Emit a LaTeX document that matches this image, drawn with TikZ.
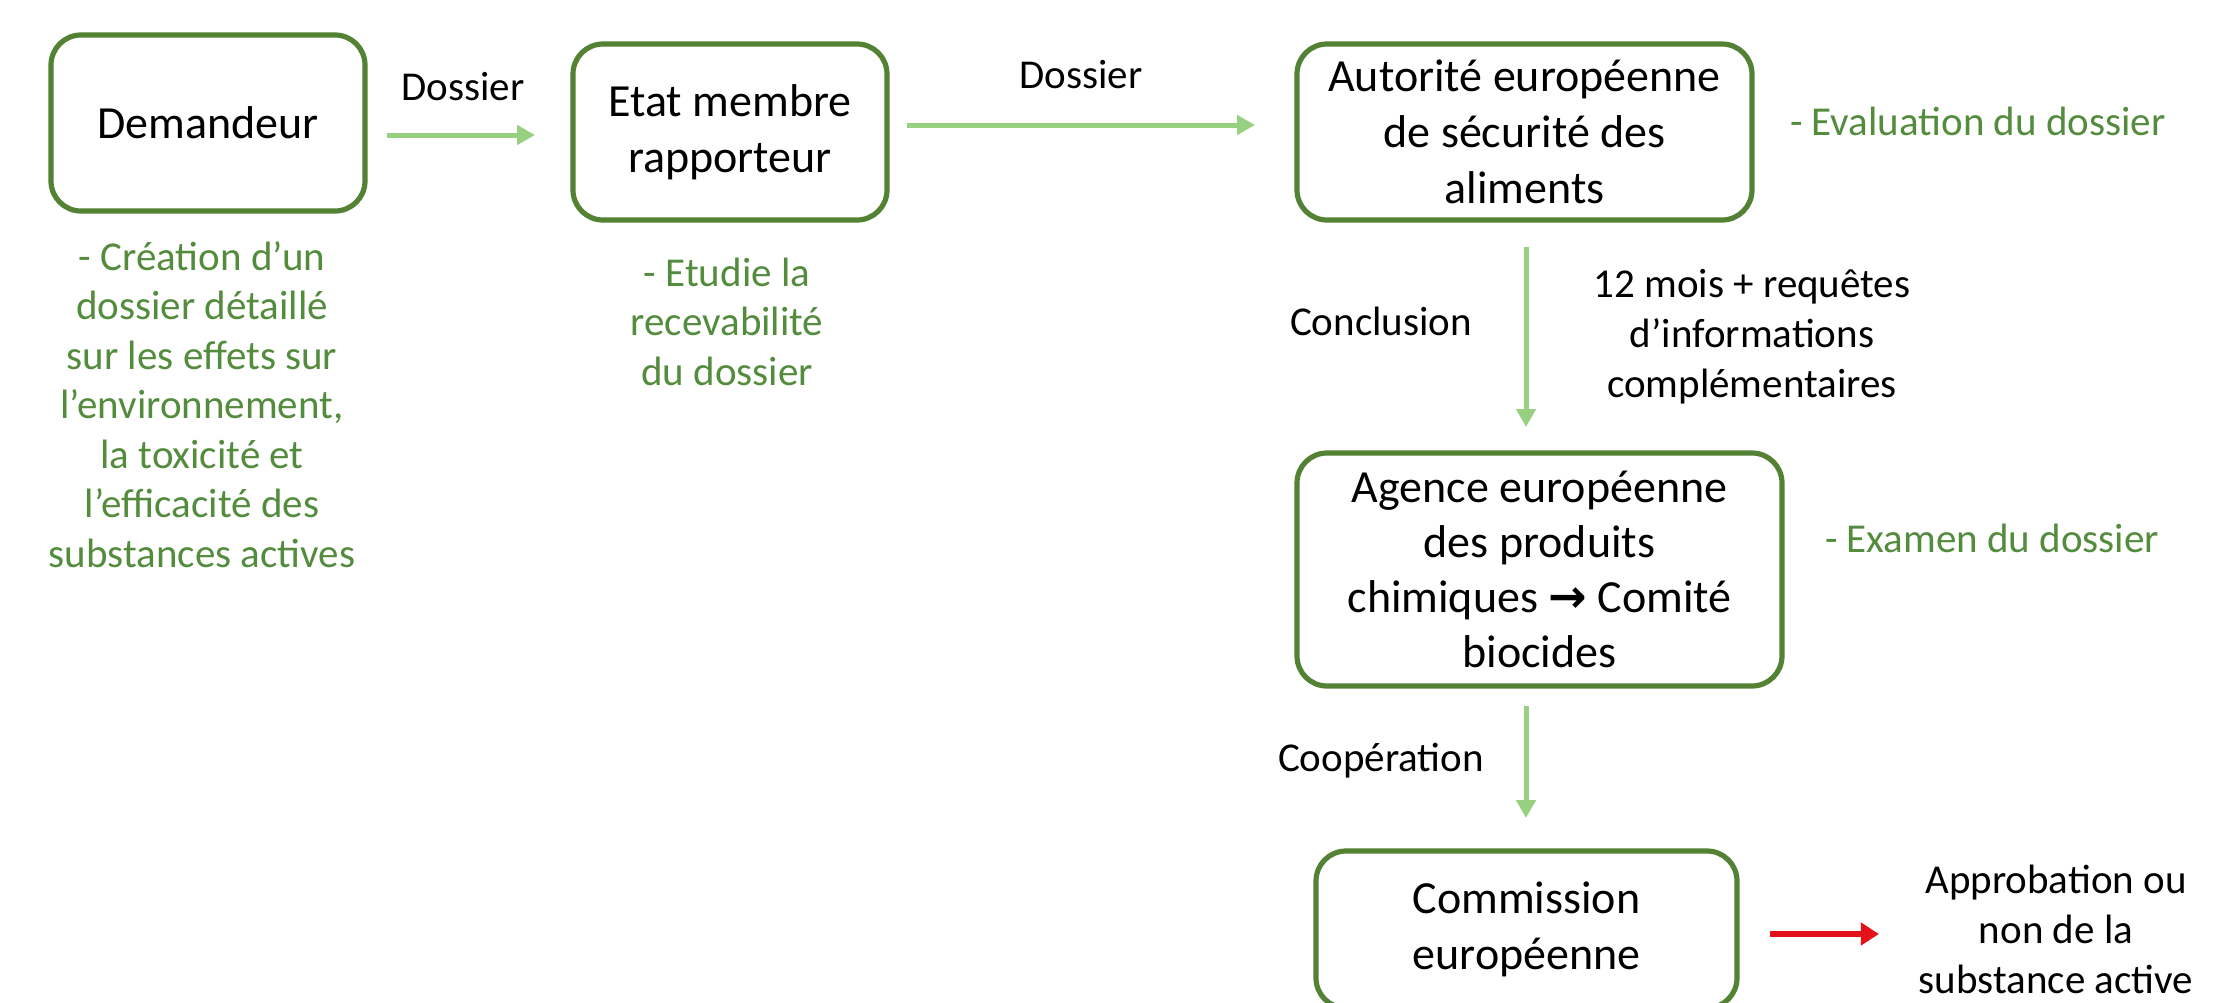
\documentclass[tikz,border=0pt]{standalone}
\usepackage{fontspec}
\setmainfont{Carlito}
\newfontfamily\symfont{DejaVu Sans}
\usetikzlibrary{arrows.meta,calc}
\definecolor{boxgreen}{RGB}{84,130,53}
\definecolor{txtgreen}{RGB}{84,140,62}
\definecolor{arrgreen}{RGB}{150,208,128}
\definecolor{arrred}{RGB}{228,18,24}
\begin{document}
\begin{tikzpicture}[x=0.5pt,y=-0.5pt,
  box/.style={draw=boxgreen, line width=2.6pt, rounded corners=15pt, fill=white,
    align=center, inner sep=0pt, outer sep=0pt, font=\fontsize{23pt}{28pt}\selectfont},
  lbl/.style={align=center, inner sep=0pt, outer sep=0pt, font=\fontsize{20.5pt}{25pt}\selectfont},
  note/.style={lbl, text=txtgreen, font=\fontsize{20.5pt}{24.75pt}\selectfont},
  garrow/.style={draw=arrgreen, line width=2.5pt, -{Triangle[length=9pt,width=9.5pt]}},
  rarrow/.style={draw=arrred, line width=2.7pt, -{Triangle[length=9pt,width=11pt]}}]
\useasboundingbox (0,0) rectangle (2217,1002);
\fill[white] (0,0) rectangle (2217,1002);

% boxes
\node[box, minimum width=157pt, minimum height=88pt] (dem) at (208,123) {Demandeur};
\node[box, minimum width=157pt, minimum height=88pt] (et) at (730,132) {Etat membre\\rapporteur};
\node[box, minimum width=227.5pt, minimum height=88pt] (aut) at (1524.5,132) {Autorité européenne\\de sécurité des\\aliments};
\node[box, minimum width=242.5pt, minimum height=116.5pt, font=\fontsize{23pt}{27.5pt}\selectfont] (age) at (1539.5,569.5) {Agence européenne\\des produits\\chimiques {\symfont\bfseries →} Comité\\biocides};
\node[box, minimum width=210.5pt, minimum height=78.5pt] (com) at (1526.5,929.5) {Commission\\européenne};

% green notes (base anchor = baseline of last line)
\node[note, anchor=base] (crea) at (202,567) {- Création d’un\\dossier détaillé\\sur les effets sur\\l’environnement,\\la toxicité et\\l’efficacité des\\substances actives};
\node[note, anchor=base] (etud) at (727,385) {- Etudie la\\recevabilité\\du dossier};
\node[note, anchor=base west] (eval) at (1790,135) {- Evaluation du dossier};
\node[note, anchor=base west] (exam) at (1825,552) {- Examen du dossier};

% labels
\node[lbl, anchor=base] (dos1) at (463,100) {Dossier};
\node[lbl, anchor=base] (dos2) at (1081,88) {Dossier};
\node[lbl, anchor=base] (concl) at (1381,335) {Conclusion};
\node[lbl, anchor=base] (mois) at (1752,397) {12 mois + requêtes\\d’informations\\complémentaires};
\node[lbl, anchor=base] (coop) at (1381,771) {Coopération};
\node[lbl, anchor=base] (appr) at (2056,993) {Approbation ou\\non de la\\substance active};

% connectors
\coordinate (r1) at (0,135);
\coordinate (r2) at (0,125);
\coordinate (vx) at (1526,0);
\coordinate (r3) at (0,934);
\draw[garrow, shorten <=11pt, shorten >=19pt] (dem.east |- r1) -- (et.west |- r1);
\draw[garrow, shorten <=10pt, shorten >=21pt] (et.east |- r2) -- (aut.west |- r2);
\draw[garrow, shorten <=13.5pt, shorten >=13pt] (vx |- aut.south) -- (vx |- age.north);
\draw[garrow, shorten <=10pt, shorten >=16.5pt] (vx |- age.south) -- (vx |- com.north);
\draw[rarrow, shorten <=16.5pt, shorten >=20pt] (com.east |- r3) -- (appr.west |- r3);
\end{tikzpicture}
\end{document}
